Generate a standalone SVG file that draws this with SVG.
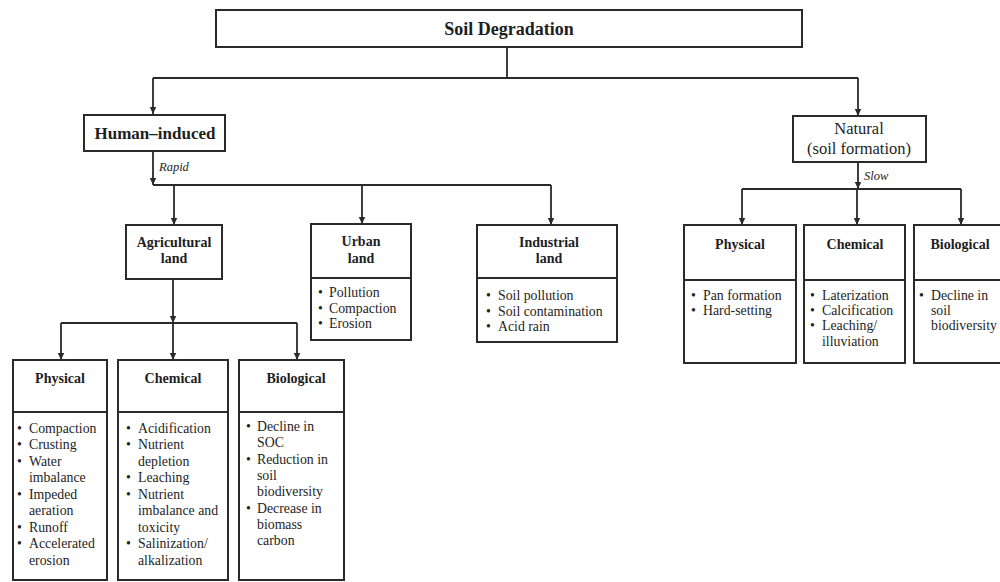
<svg xmlns="http://www.w3.org/2000/svg" width="1000" height="582" viewBox="0 0 1000 582">
<style>
.box{fill:#fff;stroke:#2a2a2a;stroke-width:2}
.div{stroke:#2a2a2a;stroke-width:2}
.con{fill:none;stroke:#2a2a2a;stroke-width:1.8}
text{font-family:"Liberation Serif","Times New Roman",serif;fill:#1e1e1e}
.hd{font-size:14px;font-weight:bold;text-anchor:middle}
.bd{font-size:13.8px}
.lbl{font-size:12.5px;font-style:italic}
</style>
<defs>
<marker id="ah" markerUnits="userSpaceOnUse" markerWidth="8" markerHeight="8" refX="7" refY="4" orient="auto">
<path d="M0,0.8 L7,4 L0,7.2 Z" fill="#2a2a2a"/>
</marker>
</defs>
<rect width="1000" height="582" fill="#fff"/>

<g id="connectors">
<path class="con" d="M507,47 V78 M153,78 H858"/>
<path class="con" d="M153,78 V114" marker-end="url(#ah)"/>
<path class="con" d="M858,78 V116" marker-end="url(#ah)"/>
<path class="con" d="M153,151 V185" marker-end="url(#ah)"/>
<path class="con" d="M153,185 H551"/>
<path class="con" d="M174,185 V225" marker-end="url(#ah)"/>
<path class="con" d="M362,185 V224" marker-end="url(#ah)"/>
<path class="con" d="M551,185 V225" marker-end="url(#ah)"/>
<path class="con" d="M173,279 V323" marker-end="url(#ah)"/>
<path class="con" d="M61,323 H297"/>
<path class="con" d="M61,323 V360" marker-end="url(#ah)"/>
<path class="con" d="M173,323 V360" marker-end="url(#ah)"/>
<path class="con" d="M297,323 V360" marker-end="url(#ah)"/>
<path class="con" d="M858,162 V189" marker-end="url(#ah)"/>
<path class="con" d="M742,189 H961"/>
<path class="con" d="M742,189 V225" marker-end="url(#ah)"/>
<path class="con" d="M857,189 V225" marker-end="url(#ah)"/>
<path class="con" d="M961,189 V225" marker-end="url(#ah)"/>
<text class="lbl" x="159" y="171">Rapid</text>
<text class="lbl" x="864" y="180">Slow</text>
</g>

<g id="soil-degradation">
<rect class="box" x="216" y="10" width="586" height="37"/>
<text x="509" y="35" style="font-size:18px;font-weight:bold;text-anchor:middle">Soil Degradation</text>
</g>

<g id="human-induced">
<rect class="box" x="84" y="115" width="141" height="36"/>
<text x="155" y="139" style="font-size:17px;font-weight:bold;text-anchor:middle">Human–induced</text>
</g>

<g id="natural">
<rect class="box" x="793" y="116" width="133" height="46"/>
<text x="859" y="134" style="font-size:16.5px;text-anchor:middle">Natural</text>
<text x="859" y="154" style="font-size:16.5px;text-anchor:middle">(soil formation)</text>
</g>

<g id="agricultural-land">
<rect class="box" x="126" y="225" width="96" height="54"/>
<text class="hd" x="174" y="247">Agricultural</text>
<text class="hd" x="174" y="263">land</text>
</g>

<g id="urban-land">
<rect class="box" x="311" y="224" width="100" height="116"/>
<line class="div" x1="311" y1="278" x2="411" y2="278"/>
<text class="hd" x="361" y="246">Urban</text>
<text class="hd" x="361" y="263">land</text>
<text class="bd" x="318" y="297">•</text><text class="bd" x="329" y="297">Pollution</text>
<text class="bd" x="318" y="313">•</text><text class="bd" x="329" y="313">Compaction</text>
<text class="bd" x="318" y="328">•</text><text class="bd" x="329" y="328">Erosion</text>
</g>

<g id="industrial-land">
<rect class="box" x="477" y="225" width="140" height="117"/>
<line class="div" x1="477" y1="278" x2="617" y2="278"/>
<text class="hd" x="549" y="247">Industrial</text>
<text class="hd" x="549" y="263">land</text>
<text class="bd" x="486" y="300">•</text><text class="bd" x="498" y="300">Soil pollution</text>
<text class="bd" x="486" y="316">•</text><text class="bd" x="498" y="316">Soil contamination</text>
<text class="bd" x="486" y="331">•</text><text class="bd" x="498" y="331">Acid rain</text>
</g>

<g id="nat-physical">
<rect class="box" x="684" y="225" width="112" height="138"/>
<line class="div" x1="684" y1="280" x2="796" y2="280"/>
<text class="hd" x="740" y="249">Physical</text>
<text class="bd" x="691" y="300">•</text><text class="bd" x="703" y="300">Pan formation</text>
<text class="bd" x="691" y="315">•</text><text class="bd" x="703" y="315">Hard-setting</text>
</g>

<g id="nat-chemical">
<rect class="box" x="804" y="225" width="101" height="138"/>
<line class="div" x1="804" y1="280" x2="905" y2="280"/>
<text class="hd" x="855" y="249">Chemical</text>
<text class="bd" x="810" y="300">•</text><text class="bd" x="822" y="300">Laterization</text>
<text class="bd" x="810" y="315">•</text><text class="bd" x="822" y="315">Calcification</text>
<text class="bd" x="810" y="330">•</text><text class="bd" x="822" y="330">Leaching/</text>
<text class="bd" x="822" y="346">illuviation</text>
</g>

<g id="nat-biological">
<rect class="box" x="914" y="225" width="96" height="138"/>
<line class="div" x1="914" y1="280" x2="1010" y2="280"/>
<text class="hd" x="960" y="249">Biological</text>
<text class="bd" x="919" y="300">•</text><text class="bd" x="931" y="300">Decline in</text>
<text class="bd" x="931" y="315">soil</text>
<text class="bd" x="931" y="330">biodiversity</text>
</g>

<g id="agr-physical">
<rect class="box" x="13" y="360" width="94" height="220"/>
<line class="div" x1="13" y1="412" x2="107" y2="412"/>
<text class="hd" x="60" y="383">Physical</text>
<text class="bd" x="17" y="433">•</text><text class="bd" x="29" y="433">Compaction</text>
<text class="bd" x="17" y="449">•</text><text class="bd" x="29" y="449">Crusting</text>
<text class="bd" x="17" y="466">•</text><text class="bd" x="29" y="466">Water</text>
<text class="bd" x="29" y="482">imbalance</text>
<text class="bd" x="17" y="499">•</text><text class="bd" x="29" y="499">Impeded</text>
<text class="bd" x="29" y="515">aeration</text>
<text class="bd" x="17" y="532">•</text><text class="bd" x="29" y="532">Runoff</text>
<text class="bd" x="17" y="548">•</text><text class="bd" x="29" y="548">Accelerated</text>
<text class="bd" x="29" y="565">erosion</text>
</g>

<g id="agr-chemical">
<rect class="box" x="118" y="360" width="110" height="220"/>
<line class="div" x1="118" y1="412" x2="228" y2="412"/>
<text class="hd" x="173" y="383">Chemical</text>
<text class="bd" x="126" y="433">•</text><text class="bd" x="138" y="433">Acidification</text>
<text class="bd" x="126" y="449">•</text><text class="bd" x="138" y="449">Nutrient</text>
<text class="bd" x="138" y="466">depletion</text>
<text class="bd" x="126" y="482">•</text><text class="bd" x="138" y="482">Leaching</text>
<text class="bd" x="126" y="499">•</text><text class="bd" x="138" y="499">Nutrient</text>
<text class="bd" x="138" y="515">imbalance and</text>
<text class="bd" x="138" y="532">toxicity</text>
<text class="bd" x="126" y="548">•</text><text class="bd" x="138" y="548">Salinization/</text>
<text class="bd" x="138" y="565">alkalization</text>
</g>

<g id="agr-biological">
<rect class="box" x="239" y="360" width="105" height="220"/>
<line class="div" x1="239" y1="412" x2="344" y2="412"/>
<text class="hd" x="296" y="383">Biological</text>
<text class="bd" x="246" y="431">•</text><text class="bd" x="257" y="431">Decline in</text>
<text class="bd" x="257" y="447">SOC</text>
<text class="bd" x="246" y="464">•</text><text class="bd" x="257" y="464">Reduction in</text>
<text class="bd" x="257" y="480">soil</text>
<text class="bd" x="257" y="496">biodiversity</text>
<text class="bd" x="246" y="513">•</text><text class="bd" x="257" y="513">Decrease in</text>
<text class="bd" x="257" y="529">biomass</text>
<text class="bd" x="257" y="545">carbon</text>
</g>
</svg>
